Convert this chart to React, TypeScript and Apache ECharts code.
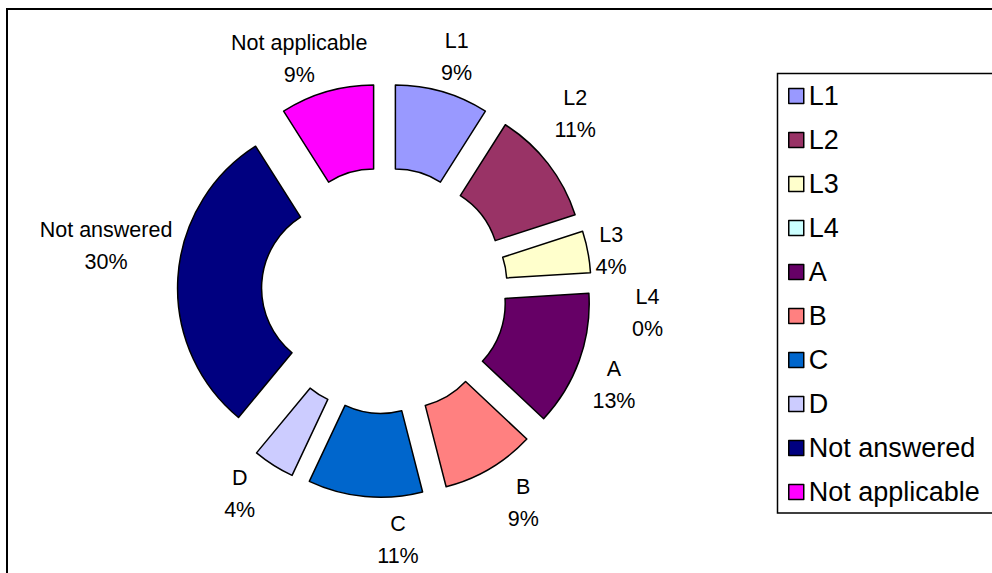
import { useEffect, useRef } from "react";
import * as echarts from "echarts";

// Response shares (percent), in clockwise order starting at 12 o'clock
const categories = ["L1", "L2", "L3", "L4", "A", "B", "C", "D", "Not answered", "Not applicable"];
const shares = [9, 11, 4, 0, 13, 9, 11, 4, 30, 9];
const sliceColors = [
  "#9999FF", "#993366", "#FFFFCC", "#CCFFFF", "#660066",
  "#FF8080", "#0066CC", "#CCCCFF", "#000080", "#FF00FF",
];

// Hand placement of the data labels: [angle shift in degrees, radius shift in px]
// relative to a label sitting on the slice's bisector at LABEL_RADIUS.
const labelNudges: [number, number][] = [
  [1, -6], [-5, 10], [1, -20], [8.5, 14], [2.5, -2],
  [-2.5, 4], [-8.5, 0], [3, 0], [5.5, 32], [-4, -3],
];

const FONT = "'Liberation Sans', Arial, sans-serif";
const CX = 384.5;
const CY = 290.5;
const R_IN = 84;
const R_OUT = 168;
const EXPLODE = 39;
const LINE_LEN = 39;
const LABEL_RADIUS = 250;

export default function App() {
  const ref = useRef<HTMLDivElement>(null);

  useEffect(() => {
    if (!ref.current) return;
    const chart = echarts.init(ref.current, null, { renderer: "svg" });

    // mid angle (radians, clockwise from top) of every slice
    const total = shares.reduce((a, b) => a + b, 0);
    const midAngles: number[] = [];
    let acc = 0;
    shares.forEach((v) => {
      midAngles.push(((acc + v / 2) / total) * Math.PI * 2);
      acc += v;
    });

    chart.setOption({
      animation: false,
      backgroundColor: "#fff",
      graphic: [
        {
          type: "rect",
          z: 0,
          shape: { x: 7, y: 9, width: 1200, height: 1000 },
          style: { fill: "none", stroke: "#000", lineWidth: 2 },
        },
        {
          type: "rect",
          z: 0,
          shape: { x: 777.5, y: 73.5, width: 400, height: 439.5 },
          style: { fill: "none", stroke: "#000", lineWidth: 1.5 },
        },
      ],
      legend: {
        orient: "vertical",
        left: 788,
        top: 82,
        padding: 0,
        itemWidth: 15,
        itemHeight: 15,
        itemGap: 16,
        icon: "rect",
        selectedMode: false,
        itemStyle: { borderColor: "#000", borderWidth: 1.5 },
        textStyle: { fontSize: 27, lineHeight: 28, color: "#000", fontFamily: FONT },
        data: categories,
      },
      series: [
        {
          type: "pie",
          center: [CX, CY],
          radius: [R_IN, R_OUT],
          startAngle: 90,
          clockwise: true,
          avoidLabelOverlap: false,
          selectedMode: "multiple",
          selectedOffset: EXPLODE,
          emphasis: { disabled: true },
          itemStyle: { borderColor: "#000", borderWidth: 1.5 },
          label: {
            show: true,
            position: "outside",
            formatter: (p: any) => `${p.name}\n${p.value}%`,
            fontSize: 21.5,
            lineHeight: 32,
            color: "#000",
            fontFamily: FONT,
            distanceToLabelLine: 0,
          },
          labelLine: { show: false, length: LINE_LEN, length2: 0 },
          // move each label from its default spot on the bisector to its placed spot
          labelLayout: (params: any) => {
            const i = params.dataIndex;
            const a = midAngles[i];
            const r0 = R_OUT + LINE_LEN + EXPLODE;
            const [da, dr] = labelNudges[i];
            const a1 = a + (da * Math.PI) / 180;
            const r1 = LABEL_RADIUS + dr;
            return {
              dx: r1 * Math.sin(a1) - r0 * Math.sin(a),
              dy: -r1 * Math.cos(a1) + r0 * Math.cos(a),
              align: "center",
              verticalAlign: "middle",
            };
          },
          data: categories.map((name, i) => {
            const border = shares[i] === 0 ? 0 : 1.5;
            return {
              name,
              value: shares[i],
              selected: true,
              itemStyle: { color: sliceColors[i], borderWidth: border },
              select: { itemStyle: { color: sliceColors[i], borderColor: "#000", borderWidth: border } },
            };
          }),
        },
      ],
    });

    return () => chart.dispose();
  }, []);

  return (
    <div
      ref={ref}
      style={{ position: "fixed", left: 0, top: 0, width: 992, height: 573 }}
    />
  );
}
